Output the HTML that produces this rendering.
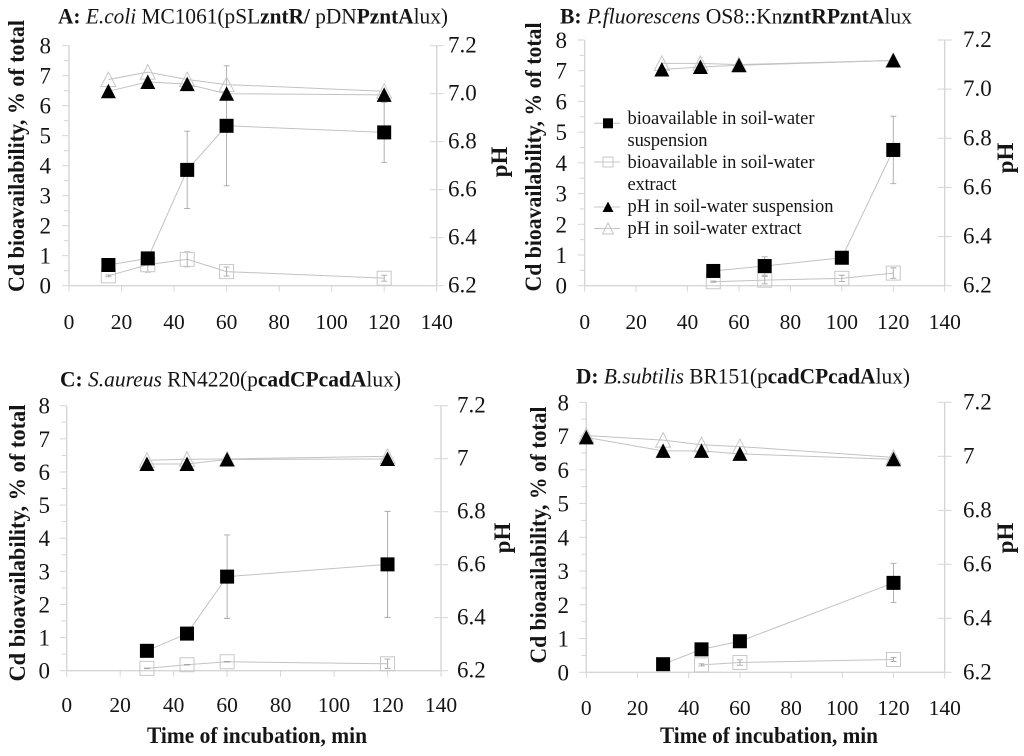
<!DOCTYPE html>
<html lang="en">
<head>
<meta charset="utf-8">
<title>Cd bioavailability over time of incubation</title>
<style>
html,body{margin:0;padding:0;background:#fff;}
#figure{display:block;width:1024px;height:756px;font-family:"Liberation Serif",serif;color:#111;filter:blur(0.35px);}
text{font-family:"Liberation Serif",serif;fill:#151515;}
.ttl{font-size:22.5px;}
.axt{font-size:23px;font-weight:bold;}
.leg{font-size:18.5px;}
.b{font-weight:bold;}
.i{font-style:italic;}
</style>
</head>
<body>
<svg id="figure" xmlns="http://www.w3.org/2000/svg" width="1024" height="756" viewBox="0 0 1024 756">
  <rect x="0" y="0" width="1024" height="756" fill="#fff"/>
  <g id="plots"></g>

  <text class="ttl" x="58" y="23.5" textLength="390" lengthAdjust="spacingAndGlyphs"><tspan class="b">A: </tspan><tspan class="i">E.coli</tspan> MC1061(pSL<tspan class="b">zntR/</tspan> pDN<tspan class="b">PzntA</tspan>lux)</text>
  <text class="ttl" x="560" y="23.5" textLength="352" lengthAdjust="spacingAndGlyphs"><tspan class="b">B: </tspan><tspan class="i">P.fluorescens</tspan> OS8::Kn<tspan class="b">zntRPzntA</tspan>lux</text>
  <text class="ttl" x="60" y="386.5" textLength="341" lengthAdjust="spacingAndGlyphs"><tspan class="b">C: </tspan><tspan class="i">S.aureus</tspan> RN4220(p<tspan class="b">cadCPcadA</tspan>lux)</text>
  <text class="ttl" x="576" y="383.5" textLength="334" lengthAdjust="spacingAndGlyphs"><tspan class="b">D: </tspan><tspan class="i">B.subtilis</tspan> BR151(p<tspan class="b">cadCPcadA</tspan>lux)</text>

  <text class="axt" transform="translate(24,156) rotate(-90)" text-anchor="middle" textLength="272" lengthAdjust="spacingAndGlyphs">Cd bioavailability, % of total</text>
  <text class="axt" transform="translate(541,157) rotate(-90)" text-anchor="middle" textLength="269" lengthAdjust="spacingAndGlyphs">Cd bioavailability, % of total</text>
  <text class="axt" transform="translate(25,543) rotate(-90)" text-anchor="middle" textLength="277" lengthAdjust="spacingAndGlyphs">Cd bioavailability, % of total</text>
  <text class="axt" transform="translate(546,535) rotate(-90)" text-anchor="middle" textLength="257" lengthAdjust="spacingAndGlyphs">Cd bioaailability, % of total</text>

  <text class="axt" transform="translate(507,162) rotate(-90)" text-anchor="middle">pH</text>
  <text class="axt" transform="translate(1013,158) rotate(-90)" text-anchor="middle">pH</text>
  <text class="axt" transform="translate(510,538) rotate(-90)" text-anchor="middle">pH</text>
  <text class="axt" transform="translate(1013,538) rotate(-90)" text-anchor="middle">pH</text>

  <text class="axt" x="257" y="743" text-anchor="middle" textLength="220" lengthAdjust="spacingAndGlyphs">Time of incubation, min</text>
  <text class="axt" x="769" y="743" text-anchor="middle" textLength="218" lengthAdjust="spacingAndGlyphs">Time of incubation, min</text>

  <g>
    <g>
      <line x1="594" x2="620" y1="123.3" y2="123.3" stroke="#c4c4c4" stroke-width="1"/>
      <rect x="603" y="118.3" width="10" height="10" fill="#000"/>
      <text class="leg" x="627.5" y="124" textLength="187" lengthAdjust="spacing">bioavailable in soil-water</text>
      <text class="leg" x="627.5" y="146" textLength="80" lengthAdjust="spacing">suspension</text>
    </g>
    <g>
      <line x1="594" x2="620" y1="162" y2="162" stroke="#c4c4c4" stroke-width="1"/>
      <rect x="603" y="157" width="10" height="10" fill="none" stroke="#c4c4c4" stroke-width="1"/>
      <text class="leg" x="627.5" y="168" textLength="187" lengthAdjust="spacing">bioavailable in soil-water</text>
      <text class="leg" x="627.5" y="190" textLength="49" lengthAdjust="spacing">extract</text>
    </g>
    <g>
      <line x1="594" x2="620" y1="207" y2="207" stroke="#c4c4c4" stroke-width="1"/>
      <polygon points="608,201.5 613.5,212 602.5,212" fill="#000"/>
      <text class="leg" x="627.5" y="212" textLength="206" lengthAdjust="spacing">pH in soil-water suspension</text>
    </g>
    <g>
      <line x1="594" x2="620" y1="228.5" y2="228.5" stroke="#c4c4c4" stroke-width="1"/>
      <polygon points="608,223 613.5,234 602.5,234" fill="none" stroke="#c4c4c4" stroke-width="1"/>
      <text class="leg" x="627.5" y="234" textLength="174" lengthAdjust="spacing">pH in soil-water extract</text>
    </g>
  </g>
</svg>
<script>
// ---- shared tick labels ----
const timeTicks = [0, 20, 40, 60, 80, 100, 120, 140];
const bioTicks = [0, 1, 2, 3, 4, 5, 6, 7, 8];
const phTicks = [6.2, 6.4, 6.6, 6.8, 7.0, 7.2];
const phLabelsAB = ['6.2', '6.4', '6.6', '6.8', '7.0', '7.2'];
const phLabelsCD = ['6.2', '6.4', '6.6', '6.8', '7', '7.2'];

// ---- panel A ----
const aBioTimes = [15, 30, 45, 60, 120];
const aSuspension = [0.69, 0.91, 3.86, 5.33, 5.11];
const aSuspensionErr = [0, 0, 1.29, 2.0, 1.0];
const aExtractTimes = [15, 30, 45, 60, 120];
const aExtract = [0.33, 0.7, 0.88, 0.47, 0.25];
const aExtractErr = [0.03, 0.25, 0.25, 0.15, 0.1];
const aPhSolidTimes = [15, 30, 45, 60, 120];
const aPhSuspension = [7.01, 7.049, 7.04, 7.0, 6.995];
const aPhOpenTimes = [15, 30, 45, 60, 120];
const aPhExtract = [7.059, 7.09, 7.059, 7.038, 7.01];

// ---- panel B ----
const bBioTimes = [50, 70, 100, 120];
const bSuspension = [0.48, 0.64, 0.91, 4.42];
const bSuspensionErr = [0, 0.3, 0, 1.1];
const bExtractTimes = [50, 70, 100, 120];
const bExtract = [0.13, 0.18, 0.24, 0.41];
const bExtractErr = [0.02, 0.12, 0.1, 0.17];
const bPhSolidTimes = [30, 45, 60, 120];
const bPhSuspension = [7.08, 7.09, 7.097, 7.117];
const bPhOpenTimes = [30, 45, 60, 120];
const bPhExtract = [7.105, 7.105, 7.1, 7.117];

// ---- panel C ----
const cBioTimes = [30, 45, 60, 120];
const cSuspension = [0.6, 1.12, 2.84, 3.21];
const cSuspensionErr = [0.05, 0.05, 1.26, 1.6];
const cExtractTimes = [30, 45, 60, 120];
const cExtract = [0.07, 0.18, 0.27, 0.21];
const cExtractErr = [0.01, 0.01, 0.01, 0.14];
const cPhSolidTimes = [30, 45, 60, 120];
const cPhSuspension = [6.98, 6.98, 6.997, 6.999];
const cPhOpenTimes = [30, 45, 60, 120];
const cPhExtract = [6.994, 6.998, 6.999, 7.009];

// ---- panel D ----
const dBioTimes = [30, 45, 60, 120];
const dSuspension = [0.24, 0.68, 0.92, 2.65];
const dSuspensionErr = [0, 0, 0, 0.58];
const dExtractTimes = [45, 60, 120];
const dExtract = [0.22, 0.29, 0.38];
const dExtractErr = [0.03, 0.08, 0.06];
const dPhSolidTimes = [0, 30, 45, 60, 120];
const dPhSuspension = [7.07, 7.02, 7.02, 7.009, 6.989];
const dPhOpenTimes = [0, 30, 45, 60, 120];
const dPhExtract = [7.077, 7.06, 7.043, 7.036, 6.996];

const SVG_NS = 'http://www.w3.org/2000/svg';
const AXIS = '#d6d6d6';
const LINE = '#c2c2c2';

function mk(parent, tag, attrs, txt) {
  const node = document.createElementNS(SVG_NS, tag);
  for (const k in attrs) node.setAttribute(k, attrs[k]);
  if (txt !== undefined) node.textContent = txt;
  parent.appendChild(node);
  return node;
}

function drawAxes(g, key, box, phLabels) {
  const xS = v => box.x0 + (box.x1 - box.x0) * v / 140;
  const yS = v => box.y0 + (box.y8 - box.y0) * v / 8;
  const pS = v => box.y0 + (box.y8 - box.y0) * (v - 6.2);

  const axisX = mk(g, 'line', {x1: xS(0), x2: xS(140), y1: yS(0), y2: yS(0), stroke: AXIS, 'stroke-width': 1.4});
  
  

  const axisY = mk(g, 'line', {x1: xS(0), x2: xS(0), y1: yS(0), y2: yS(8), stroke: AXIS, 'stroke-width': 1.4});
  
  

  const axisP = mk(g, 'line', {x1: xS(140), x2: xS(140), y1: yS(0), y2: yS(8), stroke: AXIS, 'stroke-width': 1.4});
  
  

  timeTicks.forEach(t => {
    const tick = mk(g, 'line', {x1: xS(t), x2: xS(t), y1: yS(0), y2: yS(0) + 6, stroke: AXIS, 'stroke-width': 1});
    
    
    const lab = mk(g, 'text', {x: xS(t), y: box.xLabelY, 'text-anchor': 'middle', 'font-size': 21.5}, String(t));
    
    
  });

  bioTicks.forEach(t => {
    const tick = mk(g, 'line', {x1: xS(0) - 7, x2: xS(0), y1: yS(t), y2: yS(t), stroke: AXIS, 'stroke-width': 1});
    
    
    if (t < 8) {
      const minor = mk(g, 'line', {x1: xS(0) - 5, x2: xS(0), y1: yS(t + 0.5), y2: yS(t + 0.5), stroke: AXIS, 'stroke-width': 1});
      
      
    }
    const lab = mk(g, 'text', {x: box.yLabelX, y: yS(t) + 8, 'text-anchor': 'end', 'font-size': 23}, String(t));
    
    
  });

  phTicks.forEach((t, i) => {
    const tick = mk(g, 'line', {x1: xS(140) - 7, x2: xS(140) + 7, y1: pS(t), y2: pS(t), stroke: AXIS, 'stroke-width': 1});
    
    
    const lab = mk(g, 'text', {x: box.pLabelX, y: pS(t) + 7, 'font-size': 23}, phLabels[i]);
    
    
  });
}

function drawLine(g, name, times, vals, xS, yS) {
  const pts = times.map((t, i) => xS(t).toFixed(2) + ',' + yS(vals[i]).toFixed(2)).join(' ');
  const pl = mk(g, 'polyline', {points: pts, fill: 'none', stroke: LINE, 'stroke-width': 1});
  
  
}

function drawErrors(g, name, times, vals, errs, xS, yS) {
  times.forEach((t, i) => {
    if (!errs[i]) return;
    const x = xS(t), hi = yS(vals[i] + errs[i]), lo = yS(vals[i] - errs[i]);
    const eb = mk(g, 'path', {
      d: 'M' + (x - 3) + ' ' + hi + 'H' + (x + 3) + 'M' + x + ' ' + hi + 'V' + lo + 'M' + (x - 3) + ' ' + lo + 'H' + (x + 3),
      fill: 'none', stroke: '#a8a8a8', 'stroke-width': 0.9});
    
    
  });
}

function drawSquares(g, name, times, vals, xS, yS, solid) {
  const half = 7;
  times.forEach((t, i) => {
    const attrs = {x: xS(t) - half, y: yS(vals[i]) - half, width: half * 2, height: half * 2};
    attrs.fill = solid ? '#000' : 'none';
    if (!solid) { attrs.stroke = '#c8c8c8'; attrs['stroke-width'] = 1; }
    const sq = mk(g, 'rect', attrs);
    
    
  });
}

function drawTriangles(g, name, times, vals, xS, yS, solid) {
  times.forEach((t, i) => {
    const x = xS(t), y = yS(vals[i]);
    const pts = x + ',' + (y - 7.5) + ' ' + (x + 7.5) + ',' + (y + 7) + ' ' + (x - 7.5) + ',' + (y + 7);
    const attrs = {points: pts};
    attrs.fill = solid ? '#000' : 'none';
    if (!solid) { attrs.stroke = '#c8c8c8'; attrs['stroke-width'] = 1; }
    const tri = mk(g, 'polygon', attrs);
    
    
  });
}

function drawPanel(key, box, phLabels, s) {
  const root = document.getElementById('plots');
  const g = mk(root, 'g', {});
  
  

  drawAxes(g, key, box, phLabels);

  const xS = v => box.x0 + (box.x1 - box.x0) * v / 140;
  const yS = v => box.y0 + (box.y8 - box.y0) * v / 8;
  const pS = v => box.y0 + (box.y8 - box.y0) * (v - 6.2);

  const p = 'panel-' + key + '-';
  drawLine(g, p + 'extract-line', s.extractTimes, s.extract, xS, yS);
  drawErrors(g, p + 'extract-error-bar', s.extractTimes, s.extract, s.extractErr, xS, yS);
  drawSquares(g, p + 'extract-point', s.extractTimes, s.extract, xS, yS, false);

  drawLine(g, p + 'suspension-line', s.bioTimes, s.suspension, xS, yS);
  drawErrors(g, p + 'suspension-error-bar', s.bioTimes, s.suspension, s.suspensionErr, xS, yS);
  drawSquares(g, p + 'suspension-point', s.bioTimes, s.suspension, xS, yS, true);

  drawLine(g, p + 'ph-extract-line', s.phOpenTimes, s.phExtract, xS, pS);
  drawTriangles(g, p + 'ph-extract-point', s.phOpenTimes, s.phExtract, xS, pS, false);

  drawLine(g, p + 'ph-suspension-line', s.phSolidTimes, s.phSuspension, xS, pS);
  drawTriangles(g, p + 'ph-suspension-point', s.phSolidTimes, s.phSuspension, xS, pS, true);
}

drawPanel('a', {x0: 69, x1: 436.7, y0: 285.7, y8: 45.7, xLabelY: 329, yLabelX: 51, pLabelX: 448}, phLabelsAB, {
  bioTimes: aBioTimes, suspension: aSuspension, suspensionErr: aSuspensionErr,
  extractTimes: aExtractTimes, extract: aExtract, extractErr: aExtractErr,
  phSolidTimes: aPhSolidTimes, phSuspension: aPhSuspension,
  phOpenTimes: aPhOpenTimes, phExtract: aPhExtract
});
drawPanel('b', {x0: 584.7, x1: 944.7, y0: 285.7, y8: 40, xLabelY: 329, yLabelX: 567, pLabelX: 963}, phLabelsAB, {
  bioTimes: bBioTimes, suspension: bSuspension, suspensionErr: bSuspensionErr,
  extractTimes: bExtractTimes, extract: bExtract, extractErr: bExtractErr,
  phSolidTimes: bPhSolidTimes, phSuspension: bPhSuspension,
  phOpenTimes: bPhOpenTimes, phExtract: bPhExtract
});
drawPanel('c', {x0: 66.7, x1: 441, y0: 670.7, y8: 405.7, xLabelY: 712, yLabelX: 50, pLabelX: 457}, phLabelsCD, {
  bioTimes: cBioTimes, suspension: cSuspension, suspensionErr: cSuspensionErr,
  extractTimes: cExtractTimes, extract: cExtract, extractErr: cExtractErr,
  phSolidTimes: cPhSolidTimes, phSuspension: cPhSuspension,
  phOpenTimes: cPhOpenTimes, phExtract: cPhExtract
});
drawPanel('d', {x0: 586.3, x1: 944.7, y0: 672.3, y8: 402.3, xLabelY: 715, yLabelX: 569, pLabelX: 963}, phLabelsCD, {
  bioTimes: dBioTimes, suspension: dSuspension, suspensionErr: dSuspensionErr,
  extractTimes: dExtractTimes, extract: dExtract, extractErr: dExtractErr,
  phSolidTimes: dPhSolidTimes, phSuspension: dPhSuspension,
  phOpenTimes: dPhOpenTimes, phExtract: dPhExtract
});
</script>
</body>
</html>
